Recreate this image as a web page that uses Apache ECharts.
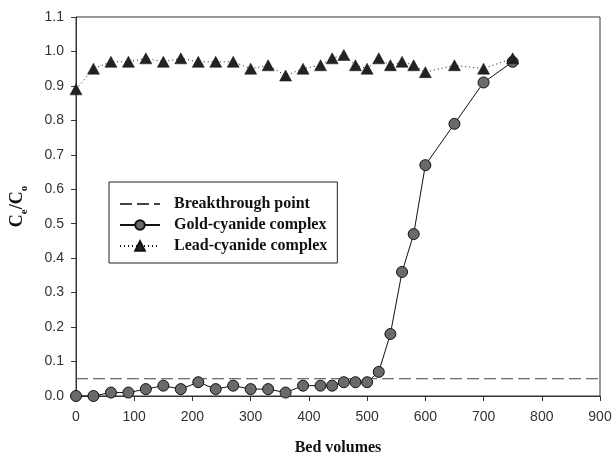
<!DOCTYPE html>
<html>
<head>
<meta charset="utf-8">
<script src="https://cdn.jsdelivr.net/npm/echarts@6/dist/echarts.min.js"></script>
<style>html,body{margin:0;padding:0;background:#fff;}#c{width:613px;height:455px;}</style>
</head>
<body>
<div id="c"></div>
<script>
const goldX = [0,30,60,90,120,150,180,210,240,270,300,330,360,390,420,440,460,480,500,520,540,560,580,600,650,700,750];
const goldY = [0,0,0.01,0.01,0.02,0.03,0.02,0.04,0.02,0.03,0.02,0.02,0.01,0.03,0.03,0.03,0.04,0.04,0.04,0.07,0.18,0.36,0.47,0.67,0.79,0.91,0.97];
const leadX = [0,30,60,90,120,150,180,210,240,270,300,330,360,390,420,440,460,480,500,520,540,560,580,600,650,700,750];
const leadY = [0.89,0.95,0.97,0.97,0.98,0.97,0.98,0.97,0.97,0.97,0.95,0.96,0.93,0.95,0.96,0.98,0.99,0.96,0.95,0.98,0.96,0.97,0.96,0.94,0.96,0.95,0.98];
const breakX = [0,900];
const breakY = [0.05,0.05];
const seriesNames = ['Breakthrough point','Gold-cyanide complex','Lead-cyanide complex'];

const zip = (xs, ys) => xs.map((x,i)=>[x,ys[i]]);
const serif = '"Liberation Serif","Times New Roman",serif';
const sans = '"Liberation Sans",Arial,sans-serif';

const chart = echarts.init(document.getElementById('c'));
chart.setOption({
  animation:false,
  backgroundColor:'#fff',
  grid:{left:76,right:13,top:17,bottom:59,outerBoundsMode:'none',containLabel:false,
        show:true,borderColor:'#333',borderWidth:1,backgroundColor:'transparent'},
  legend:{
    orient:'vertical',left:109,top:182,
    borderColor:'#222',borderWidth:1,padding:[14,10,9,10],
    itemWidth:40,itemHeight:12,itemGap:5,
    textStyle:{fontFamily:serif,fontWeight:'bold',fontSize:16,color:'#111',padding:[0,0,0,9]},
    data:[
      {name:seriesNames[0],itemStyle:{opacity:0}},
      {name:seriesNames[1]},
      {name:seriesNames[2]}
    ]
  },
  xAxis:{
    type:'value',min:0,max:900,interval:100,
    name:'Bed volumes',nameLocation:'middle',nameGap:44,
    nameTextStyle:{fontFamily:serif,fontWeight:'bold',fontSize:16,color:'#111'},
    axisLine:{lineStyle:{color:'#333',width:1}},
    axisTick:{show:true,length:5,inside:false,lineStyle:{color:'#333'}},
    axisLabel:{fontFamily:sans,fontSize:14,color:'#333',margin:14},
    splitLine:{show:false}
  },
  yAxis:{
    type:'value',min:0,max:1.1,interval:0.1,
    name:'{b|C}{s|e}{b|/C}{s|o}',nameLocation:'middle',nameGap:50,nameRotate:90,
    nameTextStyle:{rich:{
      b:{fontFamily:serif,fontWeight:'bold',fontSize:18,color:'#111',lineHeight:24,verticalAlign:'bottom'},
      s:{fontFamily:serif,fontWeight:'bold',fontSize:11,color:'#111',lineHeight:24,verticalAlign:'bottom',padding:[0,0,-4,0]}
    }},
    axisLine:{show:true,lineStyle:{color:'#333',width:1}},
    axisTick:{show:true,length:5,inside:false,lineStyle:{color:'#333'}},
    axisLabel:{fontFamily:sans,fontSize:14,color:'#333',margin:12,formatter:v=>v.toFixed(1)},
    splitLine:{show:false}
  },
  series:[
    {name:seriesNames[0],type:'line',data:zip(breakX,breakY),symbol:'none',
     lineStyle:{color:'#444',width:1.2,type:[12,5]},itemStyle:{color:'#444'}},
    {name:seriesNames[1],type:'line',data:zip(goldX,goldY),symbol:'circle',symbolSize:11,
     lineStyle:{color:'#111',width:1},itemStyle:{color:'#6a6a6a',borderColor:'#111',borderWidth:1},z:3},
    {name:seriesNames[2],type:'line',data:zip(leadX,leadY),symbol:'triangle',symbolSize:[12,11],
     lineStyle:{color:'#111',width:1,type:[1,3]},itemStyle:{color:'#222',borderColor:'#111',borderWidth:0.5},z:4}
  ]
});
</script>
</body>
</html>
